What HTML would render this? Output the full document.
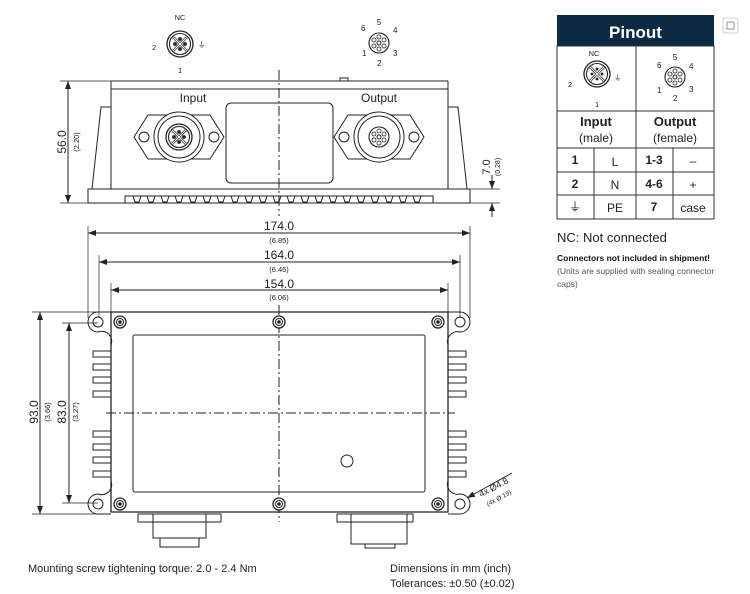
<!DOCTYPE html>
<html><head><style>
body{margin:0;background:#fff;}
svg{display:block;font-family:"Liberation Sans",sans-serif;}
</style></head><body>
<svg width="750" height="594" viewBox="0 0 750 594" xmlns="http://www.w3.org/2000/svg">
<defs>
<marker id="a" markerWidth="8" markerHeight="6" refX="8" refY="3" orient="auto-start-reverse" markerUnits="userSpaceOnUse"><path d="M0,0 L8,3 L0,6z" fill="#222"/></marker>
<g id="male"><circle r="13" fill="#fff" stroke="#222" stroke-width="1.3"/><circle r="10.5" fill="none" stroke="#222" stroke-width="1.1"/><path d="M-7,-7 L7,7 M-7,7 L7,-7" stroke="#222" stroke-width="2.6"/><path d="M-7,-7 L7,7 M-7,7 L7,-7" stroke="#fff" stroke-width="1.2"/><circle cx="0" cy="-5" r="1.4" fill="#222"/><circle cx="5" cy="0" r="1.4" fill="#222"/><circle cx="0" cy="5" r="1.4" fill="#222"/><circle cx="-5" cy="0" r="1.4" fill="#222"/></g>
<g id="fem"><circle r="10" fill="#fff" stroke="#222" stroke-width="1.1"/><circle r="2" fill="none" stroke="#222"/><g fill="none" stroke="#222" stroke-width=".8"><circle cx="0" cy="-6" r="2"/><circle cx="5" cy="-3" r="2"/><circle cx="5" cy="3" r="2"/><circle cx="0" cy="6" r="2"/><circle cx="-5" cy="3" r="2"/><circle cx="-5" cy="-3" r="2"/></g></g>
<g id="scr"><circle r="6" fill="#fff" stroke="#222" stroke-width="1.3"/><circle r="3.5" fill="none" stroke="#222"/><circle r="1.3" fill="#222"/></g>
</defs>
<g stroke="#222" fill="none" stroke-width="1">
<use href="#male" x="180" y="44"/>
<use href="#fem" x="379" y="43"/>
<line x1="111" y1="81" x2="448" y2="81"/><line x1="111" y1="89" x2="448" y2="89"/>
<line x1="111" y1="81" x2="111" y2="189"/><line x1="448" y1="81" x2="448" y2="189"/>
<path d="M111,107 L101,107 L92,189"/><path d="M448,107 L458,107 L467,189"/>
<rect x="88" y="189" width="382" height="14"/>
<path d="M125,203 L125,196 L433,196 L433,203"/>
<path d="M133,196 l2,6 4,0 2,-6 M147,196 l2,6 4,0 2,-6 M161,196 l2,6 4,0 2,-6 M175,196 l2,6 4,0 2,-6 M189,196 l2,6 4,0 2,-6 M203,196 l2,6 4,0 2,-6 M217,196 l2,6 4,0 2,-6 M231,196 l2,6 4,0 2,-6 M245,196 l2,6 4,0 2,-6 M259,196 l2,6 4,0 2,-6 M273,196 l2,6 4,0 2,-6 M287,196 l2,6 4,0 2,-6 M301,196 l2,6 4,0 2,-6 M315,196 l2,6 4,0 2,-6 M329,196 l2,6 4,0 2,-6 M343,196 l2,6 4,0 2,-6 M357,196 l2,6 4,0 2,-6 M371,196 l2,6 4,0 2,-6 M385,196 l2,6 4,0 2,-6 M399,196 l2,6 4,0 2,-6 M413,196 l2,6 4,0 2,-6"/>
<rect x="226" y="103" width="107" height="80" rx="5"/>
<path d="M340,81 v-3 h8 v3"/>
<path d="M148,115 L210,115 L224,137 L210,159 L148,159 L134,137 Z"/>
<circle cx="144" cy="137" r="5"/><circle cx="214" cy="137" r="5"/>
<circle cx="179" cy="137" r="25" fill="#fff"/><circle cx="179" cy="137" r="21"/>
<use href="#male" x="179" y="137"/>
<path d="M348,115 L410,115 L424,137 L410,159 L348,159 L334,137 Z"/>
<circle cx="344" cy="137" r="5"/><circle cx="414" cy="137" r="5"/>
<circle cx="379" cy="137" r="25" fill="#fff"/><circle cx="379" cy="137" r="21"/>
<use href="#fem" x="379" y="137"/>
<line x1="279" y1="70" x2="279" y2="216" stroke-dasharray="10,3,2,3"/>
<line x1="60" y1="81" x2="111" y2="81" stroke-width=".7"/><line x1="60" y1="203" x2="88" y2="203" stroke-width=".7"/>
<line x1="68" y1="81" x2="68" y2="203" marker-start="url(#a)" marker-end="url(#a)"/>
<line x1="470" y1="189" x2="500" y2="189" stroke-width=".7"/><line x1="470" y1="203" x2="500" y2="203" stroke-width=".7"/>
<line x1="492" y1="175" x2="492" y2="189" marker-end="url(#a)"/><line x1="492" y1="217" x2="492" y2="203" marker-end="url(#a)"/>
<line x1="88" y1="226" x2="88" y2="318" stroke-width=".7"/><line x1="470" y1="226" x2="470" y2="318" stroke-width=".7"/>
<line x1="99" y1="255" x2="99" y2="318" stroke-width=".7"/><line x1="460" y1="255" x2="460" y2="318" stroke-width=".7"/>
<line x1="111" y1="283" x2="111" y2="312" stroke-width=".7"/><line x1="448" y1="283" x2="448" y2="312" stroke-width=".7"/>
<line x1="88" y1="233" x2="470" y2="233" marker-start="url(#a)" marker-end="url(#a)"/>
<line x1="99" y1="262" x2="460" y2="262" marker-start="url(#a)" marker-end="url(#a)"/>
<line x1="111" y1="290" x2="448" y2="290" marker-start="url(#a)" marker-end="url(#a)"/>
<path d="M111,312 L448,312 L448,512 L111,512 Z" stroke-width="1.3"/>
<path d="M111,312 L98,312 A10,10 0 0 0 88,322 A10,10 0 0 0 98,332 A10,10 0 0 1 111,345"/>
<path d="M448,312 L460,312 A10,10 0 0 1 470,322 A10,10 0 0 1 460,332 A10,10 0 0 0 448,345"/>
<path d="M111,514 L98,514 A10,10 0 0 1 88,504 A10,10 0 0 1 98,494 A10,10 0 0 0 111,481"/>
<path d="M448,514 L460,514 A10,10 0 0 0 470,504 A10,10 0 0 0 460,494 A10,10 0 0 1 448,481"/>
<circle cx="98" cy="322" r="5"/><circle cx="460" cy="322" r="5"/><circle cx="98" cy="504" r="5"/><circle cx="460" cy="504" r="5"/>
<rect x="133" y="335" width="292" height="157" rx="2"/>
<g>
<rect x="93" y="351" width="18" height="6"/><rect x="93" y="364" width="18" height="6"/><rect x="93" y="377" width="18" height="6"/><rect x="93" y="391" width="18" height="6"/>
<rect x="93" y="431" width="18" height="6"/><rect x="93" y="444" width="18" height="6"/><rect x="93" y="457" width="18" height="6"/><rect x="93" y="471" width="18" height="6"/>
<rect x="448" y="351" width="18" height="6"/><rect x="448" y="364" width="18" height="6"/><rect x="448" y="377" width="18" height="6"/><rect x="448" y="391" width="18" height="6"/>
<rect x="448" y="431" width="18" height="6"/><rect x="448" y="444" width="18" height="6"/><rect x="448" y="457" width="18" height="6"/><rect x="448" y="471" width="18" height="6"/>
</g>
<line x1="106" y1="413" x2="455" y2="413" stroke-dasharray="10,3,2,3"/>
<line x1="279" y1="305" x2="279" y2="522" stroke-dasharray="10,3,2,3"/>
<circle cx="347" cy="461" r="6"/>
<use href="#scr" x="120" y="322"/><use href="#scr" x="279" y="322"/><use href="#scr" x="438" y="322"/>
<use href="#scr" x="120" y="504"/><use href="#scr" x="279" y="504"/><use href="#scr" x="438" y="504"/>
<rect x="138" y="514" width="83" height="8"/><rect x="153" y="514" width="53" height="24"/><rect x="160" y="538" width="39" height="9"/>
<rect x="337" y="514" width="76" height="8"/><rect x="351" y="514" width="56" height="30"/><rect x="365" y="544" width="30" height="4"/>
<line x1="32" y1="312" x2="111" y2="312" stroke-width=".7"/><line x1="32" y1="514" x2="98" y2="514" stroke-width=".7"/>
<line x1="62" y1="323" x2="98" y2="323" stroke-width=".7"/><line x1="62" y1="503" x2="98" y2="503" stroke-width=".7"/>
<line x1="40" y1="312" x2="40" y2="514" marker-start="url(#a)" marker-end="url(#a)"/>
<line x1="69" y1="323" x2="69" y2="503" marker-start="url(#a)" marker-end="url(#a)"/>
<line x1="512" y1="473" x2="467" y2="498" marker-end="url(#a)"/>
</g>
<g fill="#222" font-size="7.5">
<text x="180" y="20" text-anchor="middle">NC</text><text x="152" y="50">2</text><text x="178" y="73">1</text><text x="198" y="47">⏚</text>
<text x="379" y="25" text-anchor="middle" font-size="8">5</text><text x="361" y="31" font-size="8">6</text><text x="393" y="33" font-size="8">4</text><text x="362" y="56" font-size="8">1</text><text x="393" y="56" font-size="8">3</text><text x="377" y="66" font-size="8">2</text>
</g>
<g fill="#222" font-size="12">
<text x="193" y="102" text-anchor="middle">Input</text><text x="379" y="102" text-anchor="middle">Output</text>
<text x="279" y="230" text-anchor="middle">174.0</text><text x="279" y="259" text-anchor="middle">164.0</text><text x="279" y="288" text-anchor="middle">154.0</text>
</g>
<g fill="#222" font-size="7.5" text-anchor="middle">
<text x="279" y="243">(6.85)</text><text x="279" y="272">(6.46)</text><text x="279" y="300">(6.06)</text>
</g>
<g fill="#222">
<text transform="translate(66,142) rotate(-90)" font-size="12" text-anchor="middle">56.0</text>
<text transform="translate(79,142) rotate(-90)" font-size="7.5" text-anchor="middle">(2.20)</text>
<text transform="translate(490,167) rotate(-90)" font-size="11" text-anchor="middle">7.0</text>
<text transform="translate(500,167) rotate(-90)" font-size="7" text-anchor="middle">(0.28)</text>
<text transform="translate(38,412) rotate(-90)" font-size="12" text-anchor="middle">93.0</text>
<text transform="translate(50,412) rotate(-90)" font-size="7.5" text-anchor="middle">(3.66)</text>
<text transform="translate(66,412) rotate(-90)" font-size="12" text-anchor="middle">83.0</text>
<text transform="translate(78,412) rotate(-90)" font-size="7.5" text-anchor="middle">(3.27)</text>
<text transform="translate(495,490) rotate(-28)" font-size="9" text-anchor="middle">4x Ø4.8</text>
<text transform="translate(500,500) rotate(-28)" font-size="6.5" text-anchor="middle">(4x Ø.19)</text>
<text x="28" y="572" font-size="11">Mounting screw tightening torque: 2.0 - 2.4 Nm</text>
<text x="390" y="572" font-size="11">Dimensions in mm (inch)</text>
<text x="390" y="587" font-size="11">Tolerances: ±0.50 (±0.02)</text>
</g>
<rect x="557" y="15" width="157" height="31" fill="#0d2a44"/>
<text x="635.5" y="38" fill="#fff" font-size="17" font-weight="bold" text-anchor="middle">Pinout</text>
<g stroke="#333" fill="none" stroke-width="1">
<rect x="557" y="46" width="157" height="173"/>
<line x1="636" y1="46" x2="636" y2="219"/>
<line x1="557" y1="111" x2="714" y2="111"/><line x1="557" y1="148" x2="714" y2="148"/>
<line x1="557" y1="172" x2="714" y2="172"/><line x1="557" y1="195" x2="714" y2="195"/>
<line x1="594" y1="148" x2="594" y2="219"/><line x1="673" y1="148" x2="673" y2="219"/>
</g>
<use href="#male" x="597" y="74"/>
<use href="#fem" x="675" y="77"/>
<g fill="#222" font-size="7.5">
<text x="594" y="56" text-anchor="middle">NC</text><text x="568" y="87">2</text><text x="595" y="107">1</text><text x="614" y="80">⏚</text>
<text x="675" y="60" text-anchor="middle" font-size="8">5</text><text x="657" y="68" font-size="8">6</text><text x="689" y="69" font-size="8">4</text><text x="657" y="93" font-size="8">1</text><text x="689" y="92" font-size="8">3</text><text x="673" y="101" font-size="8">2</text>
</g>
<g fill="#222" text-anchor="middle">
<text x="596" y="126" font-size="13" font-weight="bold">Input</text><text x="596" y="142" font-size="12">(male)</text>
<text x="675" y="126" font-size="13" font-weight="bold">Output</text><text x="675" y="142" font-size="12">(female)</text>
<text x="575" y="164" font-size="12" font-weight="bold">1</text><text x="615" y="166" font-size="12">L</text>
<text x="654" y="164" font-size="12" font-weight="bold">1-3</text><text x="693" y="165" font-size="12">–</text>
<text x="575" y="188" font-size="12" font-weight="bold">2</text><text x="615" y="189" font-size="12">N</text>
<text x="654" y="188" font-size="12" font-weight="bold">4-6</text><text x="693" y="189" font-size="12">+</text>
<text x="575" y="211" font-size="12">⏚</text><text x="615" y="212" font-size="12">PE</text>
<text x="654" y="211" font-size="12" font-weight="bold">7</text><text x="693" y="212" font-size="12">case</text>
</g>
<text x="557" y="242" font-size="13" fill="#222">NC: Not connected</text>
<text x="557" y="261" font-size="8.5" font-weight="bold" fill="#111">Connectors not included in shipment!</text>
<text x="557" y="274" font-size="8.5" fill="#555">(Units are supplied with sealing connector</text>
<text x="557" y="287" font-size="8.5" fill="#555">caps)</text>
<rect x="723" y="18" width="15" height="15" rx="2" fill="#fff" stroke="#ccc"/>
<rect x="727" y="22" width="7" height="7" fill="none" stroke="#777" stroke-width=".8"/>
</svg>
</body></html>
